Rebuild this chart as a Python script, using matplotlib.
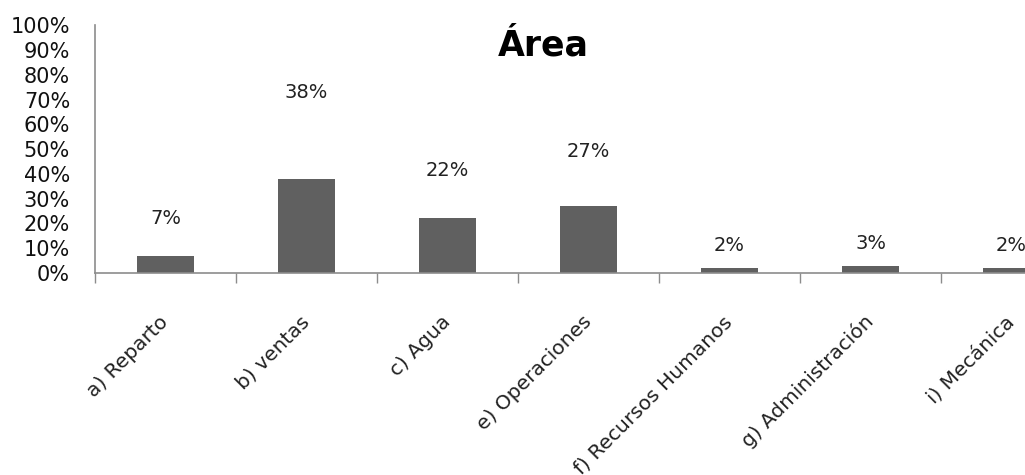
import numpy as np
import matplotlib
matplotlib.use("Agg")
import matplotlib.pyplot as plt
from matplotlib.ticker import FuncFormatter

# porcentaje de respuestas por área
areas = ["a) Reparto", "b) ventas", "c) Agua", "e) Operaciones",
         "f) Recursos Humanos", "g) Administración", "i) Mecánica"]
porcentajes = [7, 38, 22, 27, 2, 3, 2]
# altura (en %) a la que va cada etiqueta
altura_etiqueta = [22, 73, 41.5, 49, 11, 12, 11]

plt.rcParams['font.family'] = ['DejaVu Sans']

fig = plt.figure(figsize=(10.25, 4.75), dpi=100)
ax = fig.add_axes([0.0927, 0.4253, 0.963, 0.5217])

x = np.arange(len(areas))
ax.bar(x, porcentajes, width=0.4, color='#606060', zorder=2)

for xi, v, h in zip(x, porcentajes, altura_etiqueta):
    ax.text(xi, h, f"{v}%", ha='center', va='center', fontsize=14, color='#222222')

ax.set_xlim(-0.5, len(areas) - 0.5)
ax.set_ylim(0, 100)
ax.set_yticks(np.arange(0, 101, 10))
ax.yaxis.set_major_formatter(FuncFormatter(lambda v, p: f"{v:.0f}%"))
ax.tick_params(axis='y', length=0, pad=18, labelsize=15, labelcolor='#111111')

# marcas del eje x entre categorías
ax.set_xticks(np.arange(-0.5, len(areas)), minor=False)
ax.set_xticklabels([])
ax.tick_params(axis='x', length=7, color='#8c8c8c', width=1)
ax.set_xticks(x, minor=True)
ax.set_xticklabels(areas, minor=True, rotation=45, ha='right', va='center',
                   rotation_mode='anchor', fontsize=14.5, color='#222222')
ax.tick_params(axis='x', which='minor', length=0, pad=33)

for s in ['top', 'right']:
    ax.spines[s].set_visible(False)
for s in ['left', 'bottom']:
    ax.spines[s].set_color('#8c8c8c')
    ax.spines[s].set_linewidth(1.2)

fig.text(0.53, 0.905, "Área", ha='center', va='center', fontsize=25,
         fontweight='bold', color='black')

fig.savefig("out.png", dpi=100)
